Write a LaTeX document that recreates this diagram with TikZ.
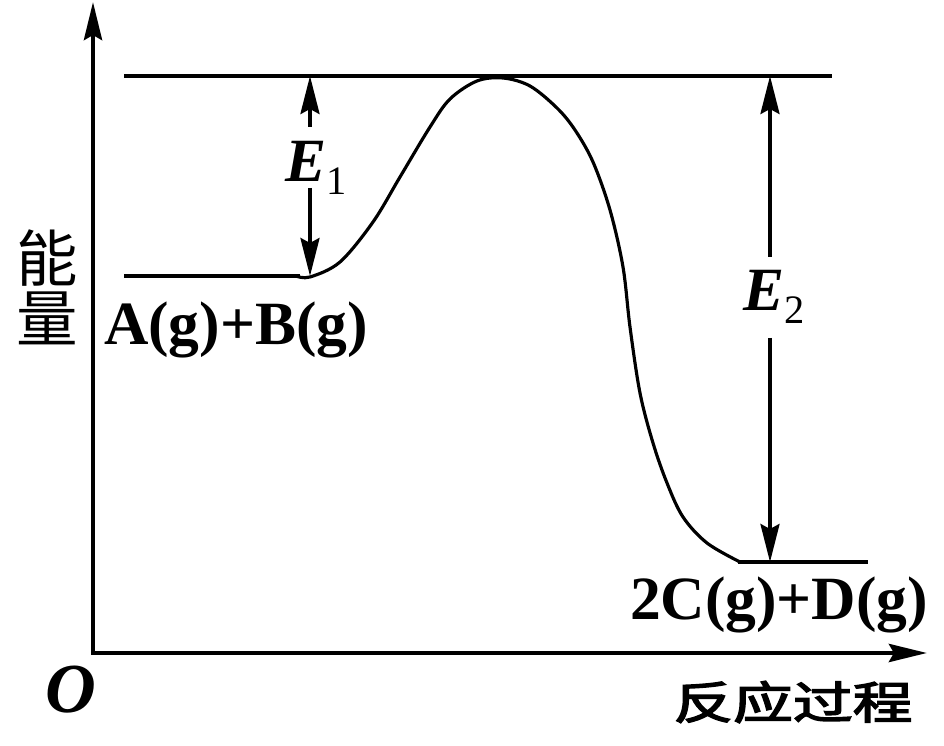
\documentclass[tikz,border=0pt]{standalone}
\usepackage{fontspec}
\setmainfont{Liberation Serif}
\newfontfamily\cjk{Noto Sans CJK SC}
\newfontfamily\cjkbold[FakeBold=3]{Noto Sans CJK SC}
\usetikzlibrary{arrows.meta}

\newcommand{\Elab}[1]{\textbf{\textit{E}}\raisebox{-0.26cm}{\fontsize{23}{23}\selectfont\mdseries #1}}

\tikzset{
    axis/.style={line width=2.6pt, {Stealth[length=0.76cm, width=0.36cm, inset=0.1cm]}-{Stealth[length=0.76cm, width=0.36cm, inset=0.1cm]}},
    level/.style={line width=2.3pt},
    path line/.style={line width=1.8pt},
    dimarrow/.style={line width=2pt, -{Stealth[length=0.76cm, width=0.38cm, inset=0.1cm]}},
    chem/.style={font=\fontsize{35}{40}\selectfont\bfseries, inner sep=0pt, anchor=base}
}

\begin{document}
\begin{tikzpicture}[x=0.02cm, y=-0.02cm]
    \useasboundingbox (0,0) rectangle (944,746);

    % --- Axes ---
    \coordinate (O) at (93,653);
    \coordinate (ytip) at (93,2);
    \coordinate (xtip) at (927,653);
    \draw[axis] (ytip) -- (O) -- (xtip);
    \node[font=\fontsize{40}{40}\selectfont\bfseries\itshape, inner sep=0pt, anchor=base] (olab) at (71,712) {O};
    \node[font=\fontsize{35}{38}\selectfont\cjk, align=center, inner sep=0pt] (ylab) at (47,287) {能\\[-4pt]量};
    \node[font=\fontsize{34}{34}\selectfont\cjkbold, inner sep=0pt] (xlab) at (793,702) {\scalebox{1}[0.75]{反应过程}};

    % --- Energy levels ---
    \coordinate (topL) at (124,76);
    \coordinate (topR) at (832,76);
    \coordinate (reacL) at (124,276);
    \coordinate (reacR) at (300,276);
    \coordinate (prodL) at (738,562);
    \coordinate (prodR) at (868,562);
    \draw[level] (topL) -- (topR);
    \draw[level] (reacL) -- (reacR);
    \draw[level] (prodL) -- (prodR);

    % --- Reaction path ---
    \draw[path line] plot[smooth, tension=0.55] coordinates {
        (296,276) (310,277) (340,262) (373,222) (400,177) (430,127) (450,99)
        (477,81) (503,78) (530,86) (557,108) (575,130) (593,162) (610,210)
        (623,267) (630,327) (640,393) (653,443) (667,483) (683,517) (707,543) (740,562)
    };

    % --- E1 ---
    \coordinate (e1top) at (310,76);
    \coordinate (e1bot) at (310,276);
    \coordinate (e1a) at (310,127);
    \coordinate (e1b) at (310,188);
    \node[chem] (E1) at (316,182) {\Elab{1}};
    \draw[dimarrow] (e1a) -- (e1top);
    \draw[dimarrow] (e1b) -- (e1bot);

    % --- E2 ---
    \coordinate (e2top) at (770,76);
    \coordinate (e2bot) at (770,562);
    \coordinate (e2a) at (770,257);
    \coordinate (e2b) at (770,338);
    \node[chem] (E2) at (774,311) {\Elab{2}};
    \draw[dimarrow] (e2a) -- (e2top);
    \draw[dimarrow] (e2b) -- (e2bot);

    % --- Species ---
    \node[chem] (reac) at (236,345) {A(g)+B(g)};
    \node[chem] (prod) at (779,620) {2C(g)+D(g)};

\end{tikzpicture}
\end{document}
